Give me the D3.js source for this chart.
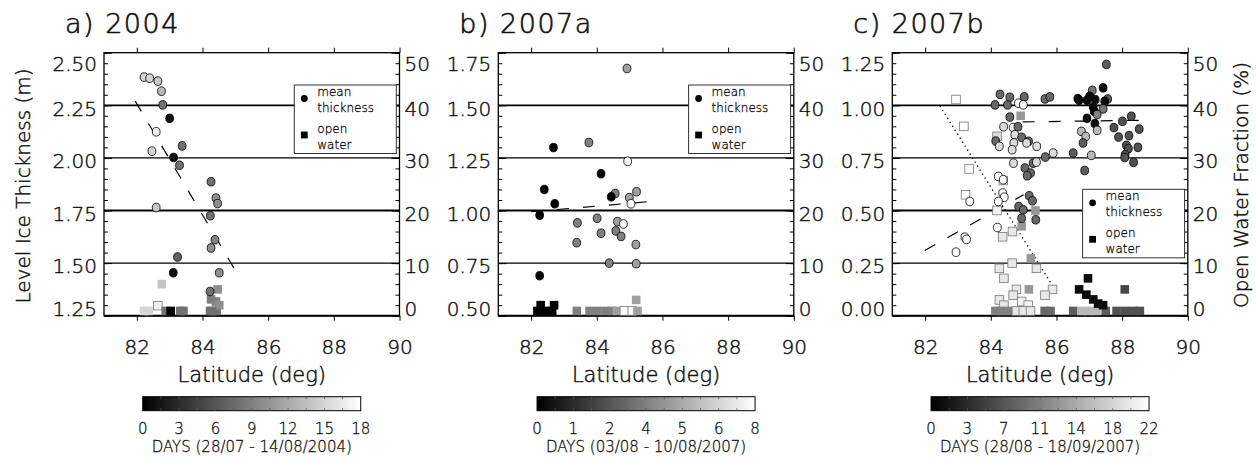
<!DOCTYPE html>
<html>
<head>
<meta charset="utf-8">
<script src="https://cdn.jsdelivr.net/npm/d3@7"></script>
<style>
  body { margin: 0; background: #fff; }
  svg text { font-family: "DejaVu Sans", sans-serif; font-weight: 300; fill: #111; stroke: #111; stroke-width: 0.45px; }
  svg text.small { stroke-width: 0.3px; }
</style>
</head>
<body>
<svg id="chart" width="1256" height="458"></svg>
<script>
// axis values
var latTicks = [82, 84, 86, 88, 90];
var waterTicks = [0, 10, 20, 30, 40, 50];
var waterGrid = [10, 20, 30, 40];

var titles = ["a) 2004", "b) 2007a", "c) 2007b"];
var thickDomains = [[1.25, 2.50], [0.50, 1.75], [0.00, 1.25]];
var dayMax = [18, 8, 22];
var dayTickLabels = [
  ["0", "3", "6", "9", "12", "15", "18"],
  ["0", "1", "2", "4", "5", "6", "8"],
  ["0", "3", "7", "11", "14", "18", "22"]
];
var dayTitles = [
  "DAYS (28/07 - 14/08/2004)",
  "DAYS (03/08 - 10/08/2007)",
  "DAYS (28/08 - 18/09/2007)"
];

// mean thickness points: [latitude, thickness (m), day]
var thickA = [
  [82.22, 2.384, 15], [82.39, 2.379, 15], [82.64, 2.365, 14], [82.75, 2.317, 13],
  [82.79, 2.252, 8], [83.00, 2.188, 1], [82.59, 2.124, 17], [83.38, 2.057, 8],
  [82.46, 2.032, 15], [83.12, 2.002, 1], [83.30, 1.965, 8], [84.26, 1.887, 8],
  [84.41, 1.809, 10], [84.46, 1.783, 10], [82.59, 1.764, 14], [84.24, 1.725, 8],
  [84.38, 1.611, 9], [84.26, 1.572, 10], [83.24, 1.529, 7], [83.11, 1.454, 1],
  [84.51, 1.454, 10], [84.23, 1.365, 8]
];
var thickB = [
  [84.92, 1.675, 5], [83.76, 1.323, 4], [82.68, 1.299, 0], [84.94, 1.234, 8],
  [84.13, 1.175, 0], [82.40, 1.100, 0], [84.56, 1.081, 4], [84.44, 1.065, 0],
  [85.21, 1.089, 5], [84.99, 1.061, 5], [82.72, 1.032, 0], [85.04, 1.032, 8],
  [82.26, 0.978, 0], [84.01, 0.963, 4], [83.41, 0.941, 4], [84.63, 0.947, 5],
  [84.81, 0.936, 8], [84.13, 0.892, 4], [84.58, 0.903, 4], [84.74, 0.877, 4],
  [83.39, 0.847, 4], [85.19, 0.838, 5], [84.38, 0.750, 4], [85.20, 0.747, 5],
  [82.26, 0.690, 0]
];
var thickC = [
  [84.28, 1.052, 9], [84.58, 1.038, 9], [84.13, 1.002, 9], [84.51, 1.002, 9],
  [84.84, 1.010, 21], [85.02, 1.040, 9], [84.99, 1.002, 21], [85.65, 1.030, 9],
  [85.80, 1.040, 9], [84.58, 0.944, 9], [84.39, 0.898, 19], [84.68, 0.894, 21],
  [84.83, 0.898, 9], [84.73, 0.860, 19], [84.94, 0.848, 9], [84.15, 0.830, 9],
  [84.26, 0.805, 19], [84.70, 0.821, 19], [85.15, 0.829, 9], [85.09, 0.821, 19],
  [85.40, 0.805, 19], [84.65, 0.789, 19], [84.69, 0.725, 19], [85.04, 0.702, 9],
  [85.29, 0.725, 9], [85.39, 0.730, 19], [85.21, 0.678, 9], [85.66, 0.754, 9],
  [85.90, 0.773, 19], [85.11, 0.665, 9], [84.23, 0.662, 22], [84.38, 0.646, 22],
  [84.36, 0.583, 22], [84.41, 0.563, 22], [84.23, 0.543, 22], [84.85, 0.519, 9],
  [84.99, 0.503, 9], [85.17, 0.570, 9], [85.27, 0.546, 9], [84.94, 0.463, 9],
  [85.37, 0.456, 9], [84.20, 0.419, 22], [83.36, 0.543, 22], [83.21, 0.373, 22],
  [83.26, 0.363, 22], [82.94, 0.302, 22],
  [87.52, 1.194, 8], [87.09, 1.071, 10], [87.42, 1.083, 1], [86.65, 1.032, 1],
  [86.69, 1.024, 1], [87.56, 1.030, 8], [86.93, 1.024, 1], [87.18, 1.027, 1],
  [87.01, 1.043, 1], [87.47, 1.019, 1], [87.12, 0.992, 1], [87.15, 0.971, 1],
  [87.42, 0.983, 10], [86.93, 0.938, 1], [87.24, 0.956, 11], [87.17, 0.913, 1],
  [86.76, 0.876, 16], [86.89, 0.852, 16], [87.24, 0.881, 16], [86.81, 0.821, 8],
  [86.51, 0.773, 8], [87.06, 0.762, 16], [86.86, 0.690, 8], [87.75, 0.894, 7],
  [88.01, 0.924, 7], [88.28, 0.948, 7], [88.52, 0.887, 7], [87.89, 0.849, 7],
  [88.21, 0.856, 7], [88.13, 0.810, 7], [88.19, 0.794, 7], [88.09, 0.765, 7],
  [88.08, 0.752, 7], [88.48, 0.800, 7], [88.35, 0.729, 7]
];

// open water points: [latitude, open water fraction (%), day]
var waterA = [
  [82.22, 0.9, 15], [82.36, 0.9, 15], [82.64, 1.9, 17], [82.76, 6.0, 14],
  [82.88, 0.9, 8], [83.32, 0.9, 8], [83.42, 0.9, 8], [83.03, 0.9, 0],
  [84.23, 0.9, 8], [84.43, 0.9, 8], [84.46, 5.0, 10], [84.26, 3.1, 9],
  [84.41, 2.7, 9], [84.51, 2.0, 10], [84.30, 0.9, 8]
];
var waterB = [
  [82.29, 2.0, 0], [82.41, 0.9, 0], [82.70, 2.0, 0], [82.64, 0.9, 0], [82.19, 0.9, 0],
  [83.39, 0.9, 4], [83.78, 0.9, 4], [84.02, 0.9, 4], [84.27, 0.9, 4], [84.46, 0.9, 4],
  [84.61, 0.9, 5], [84.84, 0.9, 8], [85.08, 0.9, 8], [85.24, 0.9, 5], [85.20, 3.0, 5]
];
var waterC = [
  [82.94, 41.1, 22], [83.18, 36.0, 22], [83.34, 27.9, 22], [83.23, 23.0, 22],
  [84.19, 34.1, 19], [84.91, 38.0, 13], [84.38, 25.7, 21], [84.19, 20.0, 21],
  [85.36, 20.0, 13], [84.94, 17.0, 13], [84.66, 16.0, 20], [84.36, 15.0, 20],
  [85.22, 10.9, 13], [84.65, 10.0, 20], [84.26, 9.0, 20], [85.39, 9.0, 20],
  [84.40, 7.1, 20], [85.16, 5.0, 13], [84.78, 5.0, 20], [85.88, 5.0, 20],
  [85.65, 3.9, 20], [84.68, 3.9, 20], [84.26, 3.0, 20], [84.94, 2.7, 21],
  [84.40, 2.0, 20], [85.14, 2.0, 21],
  [84.14, 0.9, 11], [84.33, 0.9, 11], [84.58, 0.9, 11], [84.78, 0.9, 20],
  [84.99, 0.9, 20], [85.21, 0.9, 20], [85.64, 0.9, 9], [85.82, 0.9, 9],
  [86.51, 0.9, 8], [86.76, 0.9, 16], [86.99, 0.9, 16], [87.22, 0.9, 16],
  [87.50, 0.9, 8], [87.83, 0.9, 7], [88.08, 0.9, 7], [88.33, 0.9, 7], [88.54, 0.9, 7],
  [86.96, 7.1, 1], [86.69, 5.0, 1], [86.91, 4.0, 1], [87.12, 3.1, 1],
  [87.27, 2.3, 1], [87.42, 2.0, 1], [88.08, 5.0, 6]
];

// fitted lines: [latitude, value]
var thickFits = [
  [[[81.95, 2.27], [85.02, 1.46]]],
  [[[82.00, 0.994], [85.63, 1.043]]],
  [[[81.99, 0.31], [85.00, 0.575]], [[84.97, 0.921], [88.64, 0.929]]]
];
var waterFits = [[], [], [[[82.45, 39.9], [85.90, 5.5]]]];

var thickSets = [thickA, thickB, thickC];
var waterSets = [waterA, waterB, waterC];

// layout
var boxLeft = [104, 498.3, 892.3];
var boxTop = 52.7, boxW = 295.5, boxH = 263;
var legendY = [32.3, 32.3, 136.6];

var svg = d3.select("#chart");

titles.forEach(function(title, p) {
  var g = svg.append("g").attr("transform", `translate(${boxLeft[p]}, ${boxTop})`);

  var x = d3.scaleLinear().domain([81, 90]).range([0, boxW]);
  var y = d3.scaleLinear().domain(thickDomains[p]).range([boxH, 0]);
  var w = d3.scaleLinear().domain([0, 50]).range([boxH, 0]);
  var shade = d3.scaleLinear().domain([0, dayMax[p]]).range(["#000", "#fff"]);

  // panel title
  svg.append("text")
    .attr("x", boxLeft[p] - 39)
    .attr("y", 33)
    .style("font-size", "27px")
    .style("letter-spacing", "1.5px")
    .style("stroke-width", "0.6px")
    .text(title);

  // horizontal lines of the open water axis
  g.selectAll(".grid")
    .data(waterGrid)
    .enter()
    .append("line")
    .attr("x1", 0).attr("x2", boxW)
    .attr("y1", d => w(d)).attr("y2", d => w(d))
    .attr("stroke", "#000")
    .attr("stroke-width", d => d % 20 === 0 ? 1.8 : 1.1);

  // axes
  var lo = thickDomains[p][0];
  var minorThick = d3.range(26).map(i => lo + i * 0.05);
  var majorThick = d3.range(6).map(i => lo + i * 0.25);

  g.append("g").call(d3.axisLeft(y).tickValues(minorThick).tickSize(-4).tickFormat(""));
  var left = g.append("g").call(d3.axisLeft(y).tickValues(majorThick).tickSize(-8).tickPadding(7).tickFormat(d3.format(".2f")));

  g.append("g").attr("transform", `translate(${boxW}, 0)`)
    .call(d3.axisRight(w).tickValues(d3.range(0, 51, 2)).tickSize(-4).tickFormat(""));
  var right = g.append("g").attr("transform", `translate(${boxW}, 0)`)
    .call(d3.axisRight(w).tickValues(waterTicks).tickSize(-8).tickPadding(5));

  g.append("g").call(d3.axisTop(x).tickValues(latTicks).tickSize(5).tickFormat(""));
  g.append("g").attr("transform", `translate(0, ${boxH})`)
    .call(d3.axisBottom(x).tickValues(latTicks).tickSize(5).tickPadding(19));

  g.selectAll(".domain").remove();
  g.selectAll(".tick line").attr("stroke", "#000");
  g.selectAll(".tick text").style("font-size", "20px");

  // end labels sit inside the box like the original
  [left, right].forEach(function(ax) {
    ax.selectAll(".tick text").attr("dy", function(d, i, n) {
      if (i === 0) return "-0.02em";
      if (i === n.length - 1) return "0.87em";
      return "0.49em";
    });
  });

  // frame
  g.append("rect")
    .attr("width", boxW).attr("height", boxH)
    .attr("fill", "none").attr("stroke", "#000").attr("stroke-width", 1.3);
  g.append("line")
    .attr("x1", 0).attr("x2", boxW).attr("y1", boxH).attr("y2", boxH)
    .attr("stroke", "#000").attr("stroke-width", 2);

  // fitted lines
  var thickLine = d3.line().x(d => x(d[0])).y(d => y(d[1]));
  var waterLine = d3.line().x(d => x(d[0])).y(d => w(d[1]));

  g.selectAll(".fit")
    .data(thickFits[p])
    .enter()
    .append("path")
    .attr("d", thickLine)
    .attr("fill", "none").attr("stroke", "#000").attr("stroke-width", 1.2)
    .attr("stroke-dasharray", "12,14");

  g.selectAll(".wfit")
    .data(waterFits[p])
    .enter()
    .append("path")
    .attr("d", waterLine)
    .attr("fill", "none").attr("stroke", "#000").attr("stroke-width", 1.3)
    .attr("stroke-dasharray", "1.3,3.4");

  // open water squares
  g.selectAll(".water")
    .data(waterSets[p])
    .enter()
    .append("rect")
    .attr("x", d => x(d[0]) - 4.3)
    .attr("y", d => w(d[1]) - 4.3)
    .attr("width", 8.6).attr("height", 8.6)
    .attr("fill", d => shade(d[2]))
    .attr("stroke", d => d[2] / dayMax[p] > 0.85 ? "#777" : "none")
    .attr("stroke-width", 0.8);

  // thickness circles
  g.selectAll(".thick")
    .data(thickSets[p])
    .enter()
    .append("ellipse")
    .attr("cx", d => x(d[0]))
    .attr("cy", d => y(d[1]))
    .attr("rx", 3.9).attr("ry", 4.3)
    .attr("fill", d => shade(d[2]))
    .attr("stroke", "#000").attr("stroke-width", 0.8);

  // legend
  var leg = g.append("g").attr("transform", `translate(190.3, ${legendY[p]})`);
  leg.append("rect")
    .attr("width", 102).attr("height", 68.5)
    .attr("fill", "#fff").attr("stroke", "#333").attr("stroke-width", 1);
  leg.append("circle").attr("cx", 10).attr("cy", 13.5).attr("r", 3.4).attr("fill", "#000");
  leg.append("rect").attr("x", 6.6).attr("y", 46.6).attr("width", 6.8).attr("height", 6.8).attr("fill", "#000");
  [["mean", 11], ["thickness", 27], ["open", 48], ["water", 63.5]].forEach(function(t) {
    leg.append("text").attr("class", "small").attr("x", 23).attr("y", t[1]).style("font-size", "12px").text(t[0]);
  });

  // x axis title
  svg.append("text")
    .attr("x", boxLeft[p] + boxW / 2)
    .attr("y", 381.5)
    .attr("text-anchor", "middle")
    .style("font-size", "21px")
    .text("Latitude (deg)");

  // colour bar of days
  var cbX = boxLeft[p] + boxW / 2 - 109, cbW = 218, cbY = 396.7, cbH = 14;
  var grad = svg.append("defs").append("linearGradient").attr("id", "grad" + p);
  grad.append("stop").attr("offset", "0%").attr("stop-color", shade(0));
  grad.append("stop").attr("offset", "100%").attr("stop-color", shade(dayMax[p]));
  svg.append("rect")
    .attr("x", cbX).attr("y", cbY).attr("width", cbW).attr("height", cbH)
    .attr("fill", `url(#grad${p})`).attr("stroke", "#000").attr("stroke-width", 1);

  var cb = d3.scaleLinear().domain([0, 6]).range([cbX, cbX + cbW]);
  var minorCb = d3.range(1, 12).map(i => i / 2);
  svg.selectAll(".cbtick" + p)
    .data(minorCb)
    .enter()
    .append("path")
    .attr("d", d => `M${cb(d)},${cbY}v2.5M${cb(d)},${cbY + cbH}v-2.5`)
    .attr("stroke", "#555").attr("stroke-width", 0.8);

  svg.selectAll(".cblabel" + p)
    .data(dayTickLabels[p])
    .enter()
    .append("text")
    .attr("class", "small")
    .attr("x", (d, i) => cb(i))
    .attr("y", 433.5)
    .attr("text-anchor", "middle")
    .style("font-size", "15px")
    .text(d => d);

  svg.append("text")
    .attr("class", "small")
    .attr("x", cbX + cbW / 2)
    .attr("y", 452)
    .attr("text-anchor", "middle")
    .style("font-size", "15px")
    .text(dayTitles[p]);
});

// y axis titles
svg.append("text")
  .attr("transform", "translate(23, 186) rotate(-90)")
  .attr("text-anchor", "middle")
  .attr("dominant-baseline", "central")
  .style("font-size", "20px")
  .text("Level Ice Thickness (m)");

svg.append("text")
  .attr("transform", "translate(1241, 185) rotate(-90)")
  .attr("text-anchor", "middle")
  .attr("dominant-baseline", "central")
  .style("font-size", "20px")
  .text("Open Water Fraction (%)");
</script>
</body>
</html>
